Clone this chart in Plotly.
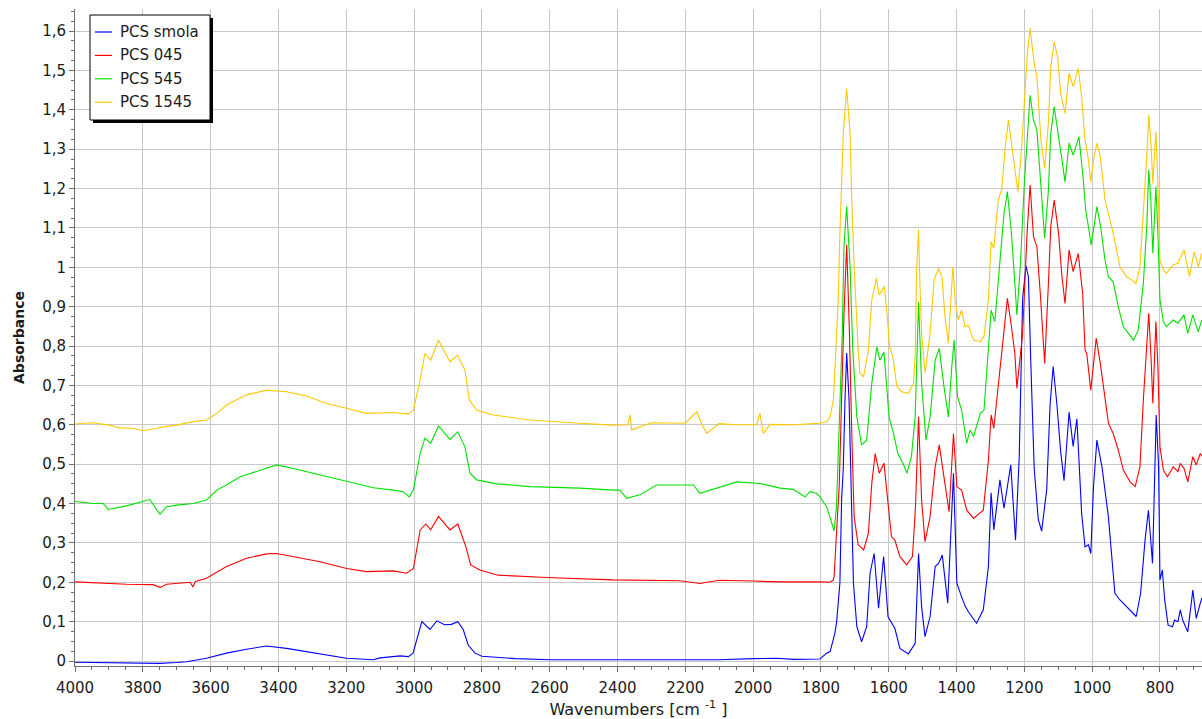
import plotly.graph_objects as go

# FTIR spectra of the PCS resin samples (absorbance vs. wavenumber)

wn_smola = [4000, 3900, 3800, 3750, 3700, 3671, 3612, 3553, 3494, 3435, 3376, 3317, 3258, 3199,
            3120, 3100, 3041, 3017, 3003, 2990, 2977, 2953, 2933, 2910, 2890, 2871, 2855, 2840,
            2820, 2800, 2700, 2600, 2400, 2300, 2200, 2100, 2000, 1931, 1880, 1830, 1803, 1783,
            1773, 1764, 1759, 1754, 1749, 1744, 1739, 1734, 1729, 1724, 1717, 1711, 1704, 1694,
            1680, 1665, 1655, 1643, 1630, 1615, 1602, 1582, 1567, 1542, 1522, 1512, 1503, 1493,
            1478, 1463, 1453, 1442, 1426, 1409, 1399, 1385, 1375, 1365, 1341, 1321, 1306, 1298,
            1290, 1272, 1260, 1240, 1226, 1215, 1205, 1195, 1188, 1181, 1171, 1159, 1149, 1134,
            1124, 1115, 1104, 1093, 1083, 1068, 1056, 1045, 1031, 1021, 1011, 1004, 996, 986,
            971, 952, 933, 918, 893, 870, 857, 844, 834, 822, 811, 804, 800, 793, 786, 776, 763,
            757, 747, 740, 733, 718, 703, 693, 681, 676]
a_smola = [-0.003, -0.004, -0.004, -0.006, -0.004, -0.002, 0.007, 0.020, 0.030, 0.038, 0.032, 0.024,
           0.015, 0.007, 0.003, 0.008, 0.013, 0.011, 0.020, 0.060, 0.100, 0.080, 0.102, 0.092,
           0.093, 0.100, 0.080, 0.040, 0.020, 0.012, 0.006, 0.003, 0.003, 0.002, 0.003, 0.003,
           0.006, 0.007, 0.004, 0.004, 0.005, 0.020, 0.024, 0.053, 0.070, 0.096, 0.160, 0.198,
           0.409, 0.490, 0.663, 0.782, 0.663, 0.409, 0.197, 0.087, 0.049, 0.087, 0.223, 0.273,
           0.134, 0.265, 0.112, 0.083, 0.032, 0.018, 0.045, 0.273, 0.138, 0.062, 0.113, 0.240,
           0.248, 0.269, 0.147, 0.477, 0.197, 0.163, 0.140, 0.125, 0.096, 0.130, 0.240, 0.427,
           0.333, 0.460, 0.388, 0.498, 0.307, 0.520, 0.922, 1.003, 0.976, 0.760, 0.490, 0.360,
           0.330, 0.436, 0.652, 0.748, 0.652, 0.533, 0.458, 0.632, 0.545, 0.615, 0.375, 0.290,
           0.295, 0.273, 0.443, 0.561, 0.493, 0.366, 0.172, 0.155, 0.134, 0.113, 0.172, 0.307,
           0.383, 0.248, 0.625, 0.493, 0.206, 0.231, 0.155, 0.091, 0.087, 0.104, 0.100, 0.130,
           0.104, 0.074, 0.180, 0.108, 0.147, 0.160]

wn_045 = [4000, 3897, 3848, 3770, 3749, 3730, 3700, 3660, 3652, 3645, 3612, 3553, 3494, 3435,
          3405, 3356, 3277, 3199, 3140, 3061, 3022, 3002, 2982, 2965, 2951, 2928, 2894, 2871,
          2847, 2833, 2806, 2752, 2609, 2413, 2216, 2157, 2100, 2000, 1920, 1803, 1773, 1764,
          1761, 1754, 1746, 1739, 1732, 1724, 1716, 1709, 1702, 1690, 1674, 1660, 1650, 1640,
          1628, 1614, 1602, 1592, 1582, 1567, 1547, 1530, 1521, 1512, 1503, 1493, 1478, 1463,
          1451, 1434, 1422, 1409, 1399, 1385, 1370, 1350, 1321, 1306, 1298, 1290, 1272, 1260,
          1250, 1238, 1228, 1222, 1205, 1192, 1183, 1173, 1163, 1153, 1140, 1129, 1122, 1112,
          1099, 1089, 1080, 1068, 1056, 1041, 1028, 1021, 1016, 1004, 996, 988, 976, 962, 952,
          938, 923, 908, 888, 873, 859, 849, 839, 833, 826, 821, 812, 806, 800, 790, 778, 761,
          747, 740, 729, 718, 703, 693, 681, 676]
a_045 = [0.201, 0.196, 0.195, 0.194, 0.187, 0.195, 0.197, 0.200, 0.188, 0.202, 0.210, 0.240,
         0.261, 0.272, 0.273, 0.265, 0.252, 0.235, 0.227, 0.229, 0.223, 0.235, 0.333, 0.348,
         0.333, 0.367, 0.333, 0.348, 0.290, 0.244, 0.231, 0.218, 0.212, 0.206, 0.204, 0.197,
         0.205, 0.203, 0.201, 0.201, 0.200, 0.205, 0.214, 0.325, 0.444, 0.663, 0.880, 1.057,
         0.838, 0.580, 0.366, 0.295, 0.282, 0.324, 0.451, 0.527, 0.477, 0.502, 0.392, 0.316,
         0.307, 0.265, 0.244, 0.265, 0.392, 0.620, 0.409, 0.303, 0.366, 0.493, 0.549, 0.443,
         0.379, 0.578, 0.443, 0.434, 0.383, 0.362, 0.383, 0.510, 0.625, 0.591, 0.743, 0.832,
         0.921, 0.849, 0.781, 0.693, 0.832, 1.086, 1.209, 1.078, 1.052, 0.934, 0.756, 0.959,
         1.103, 1.171, 1.086, 0.976, 0.908, 1.044, 0.989, 1.035, 0.934, 0.790, 0.781, 0.688,
         0.747, 0.820, 0.756, 0.663, 0.604, 0.578, 0.536, 0.485, 0.455, 0.443, 0.493, 0.663,
         0.815, 0.883, 0.764, 0.654, 0.862, 0.747, 0.544, 0.485, 0.468, 0.493, 0.481, 0.502,
         0.489, 0.455, 0.519, 0.498, 0.527, 0.520]

wn_545 = [4000, 3946, 3917, 3902, 3848, 3779, 3760, 3749, 3730, 3700, 3651, 3612, 3582, 3553,
          3513, 3454, 3405, 3356, 3297, 3238, 3179, 3120, 3061, 3032, 3014, 3002, 2982, 2968,
          2951, 2928, 2894, 2871, 2850, 2835, 2815, 2756, 2658, 2511, 2412, 2393, 2373, 2334,
          2285, 2176, 2157, 2048, 1980, 1920, 1882, 1847, 1832, 1813, 1803, 1783, 1768, 1761,
          1754, 1744, 1737, 1732, 1724, 1714, 1709, 1706, 1694, 1680, 1665, 1650, 1635, 1626,
          1614, 1599, 1587, 1573, 1558, 1546, 1533, 1522, 1512, 1503, 1490, 1478, 1463, 1451,
          1437, 1424, 1414, 1407, 1397, 1385, 1370, 1360, 1350, 1330, 1319, 1306, 1298, 1287,
          1272, 1260, 1250, 1238, 1228, 1222, 1212, 1200, 1183, 1173, 1163, 1153, 1140, 1129,
          1122, 1112, 1099, 1089, 1080, 1068, 1056, 1039, 1027, 1019, 1011, 1003, 996, 986, 975,
          962, 952, 938, 923, 908, 893, 878, 864, 849, 839, 833, 827, 821, 812, 806, 800, 790,
          781, 761, 747, 729, 718, 703, 687, 677]
a_545 = [0.405, 0.400, 0.400, 0.385, 0.394, 0.410, 0.385, 0.373, 0.392, 0.396, 0.400, 0.409,
         0.434, 0.447, 0.468, 0.485, 0.498, 0.489, 0.477, 0.464, 0.451, 0.440, 0.434, 0.430,
         0.417, 0.434, 0.527, 0.566, 0.553, 0.597, 0.563, 0.582, 0.544, 0.477, 0.460, 0.450,
         0.443, 0.439, 0.434, 0.434, 0.413, 0.422, 0.447, 0.447, 0.426, 0.455, 0.451, 0.439,
         0.436, 0.417, 0.430, 0.426, 0.417, 0.392, 0.350, 0.330, 0.392, 0.663, 0.832, 1.052,
         1.154, 1.001, 0.874, 0.790, 0.620, 0.549, 0.561, 0.705, 0.798, 0.764, 0.785, 0.620,
         0.582, 0.527, 0.502, 0.477, 0.519, 0.620, 0.912, 0.705, 0.561, 0.620, 0.764, 0.794,
         0.697, 0.620, 0.747, 0.815, 0.671, 0.637, 0.553, 0.587, 0.570, 0.629, 0.637, 0.790,
         0.891, 0.862, 1.010, 1.137, 1.192, 1.086, 0.959, 0.879, 1.001, 1.213, 1.437, 1.374,
         1.349, 1.239, 1.073, 1.196, 1.340, 1.408, 1.323, 1.272, 1.217, 1.315, 1.285, 1.332,
         1.230, 1.145, 1.103, 1.057, 1.095, 1.154, 1.103, 1.018, 0.976, 0.963, 0.900, 0.849,
         0.832, 0.815, 0.841, 0.959, 1.103, 1.247, 1.171, 1.035, 1.205, 1.086, 0.917, 0.862,
         0.849, 0.866, 0.858, 0.879, 0.832, 0.879, 0.836, 0.866]

wn_1545 = [4000, 3950, 3897, 3870, 3828, 3800, 3759, 3730, 3700, 3651, 3612, 3582, 3553, 3494,
           3435, 3376, 3317, 3258, 3199, 3140, 3061, 3017, 3002, 2982, 2968, 2951, 2928, 2894,
           2872, 2850, 2837, 2815, 2766, 2658, 2511, 2412, 2370, 2363, 2358, 2300, 2200, 2166,
           2150, 2137, 2100, 2050, 1990, 1980, 1970, 1950, 1880, 1803, 1783, 1773, 1763, 1754,
           1749, 1744, 1739, 1734, 1724, 1714, 1709, 1702, 1690, 1685, 1674, 1660, 1650, 1636,
           1628, 1613, 1604, 1598, 1588, 1576, 1562, 1542, 1527, 1522, 1518, 1512, 1508, 1503,
           1493, 1478, 1466, 1453, 1443, 1434, 1424, 1411, 1404, 1395, 1385, 1375, 1365, 1350,
           1330, 1319, 1306, 1298, 1290, 1277, 1267, 1257, 1247, 1232, 1219, 1207, 1192, 1183,
           1171, 1163, 1151, 1140, 1129, 1122, 1112, 1102, 1093, 1080, 1068, 1056, 1041, 1031,
           1021, 1011, 1004, 996, 986, 976, 962, 947, 938, 918, 898, 884, 871, 859, 849, 839,
           833, 826, 821, 812, 806, 800, 790, 781, 761, 747, 729, 713, 699, 687, 677]
a_1545 = [0.602, 0.605, 0.599, 0.592, 0.591, 0.585, 0.591, 0.596, 0.599, 0.608, 0.612, 0.629,
          0.650, 0.676, 0.688, 0.684, 0.673, 0.654, 0.642, 0.629, 0.631, 0.627, 0.637, 0.714,
          0.781, 0.764, 0.815, 0.760, 0.777, 0.739, 0.663, 0.637, 0.625, 0.612, 0.604, 0.599,
          0.600, 0.625, 0.587, 0.605, 0.604, 0.633, 0.600, 0.578, 0.603, 0.600, 0.600, 0.629,
          0.578, 0.601, 0.600, 0.604, 0.608, 0.620, 0.663, 0.833, 0.917, 1.086, 1.213, 1.340,
          1.454, 1.340, 1.171, 1.001, 0.790, 0.731, 0.722, 0.790, 0.917, 0.972, 0.930, 0.951,
          0.874, 0.800, 0.773, 0.697, 0.684, 0.680, 0.705, 0.773, 0.985, 1.095, 0.959, 0.832,
          0.731, 0.832, 0.968, 0.997, 0.976, 0.874, 0.807, 1.001, 0.917, 0.866, 0.891, 0.849,
          0.853, 0.815, 0.811, 0.824, 0.917, 1.065, 1.048, 1.171, 1.196, 1.298, 1.374, 1.281,
          1.192, 1.315, 1.535, 1.607, 1.518, 1.484, 1.323, 1.251, 1.366, 1.509, 1.573, 1.535,
          1.442, 1.391, 1.493, 1.459, 1.505, 1.433, 1.323, 1.272, 1.217, 1.272, 1.315, 1.281,
          1.171, 1.120, 1.086, 1.001, 0.976, 0.968, 0.959, 1.001, 1.128, 1.281, 1.387, 1.306,
          1.213, 1.344, 1.213, 1.018, 0.993, 0.985, 1.006, 1.010, 1.044, 0.976, 1.040, 1.001,
          1.035]

series_names = ["PCS smola", "PCS 045", "PCS 545", "PCS 1545"]
series_colors = ["rgb(0,0,255)", "rgb(255,0,0)", "rgb(0,225,0)", "rgb(255,200,0)"]
series_x = [wn_smola, wn_045, wn_545, wn_1545]
series_y = [a_smola, a_045, a_545, a_1545]

x_ticks = [4000, 3800, 3600, 3400, 3200, 3000, 2800, 2600, 2400, 2200, 2000, 1800, 1600,
           1400, 1200, 1000, 800]
y_ticks = [0, 0.1, 0.2, 0.3, 0.4, 0.5, 0.6, 0.7, 0.8, 0.9, 1.0, 1.1, 1.2, 1.3, 1.4, 1.5, 1.6]

FONT = "DejaVu Sans"
W, H = 1202, 719
ML, MR, MT, MB = 75, 0, 9, 53
PW, PH = W - ML - MR, H - MT - MB


def px(x):
    """Horizontal pixel position -> paper coordinate."""
    return (x - ML) / PW


def py(y):
    """Vertical pixel position (from top) -> paper coordinate."""
    return (H - MB - y) / PH


fig = go.Figure()
for name, color, xs, ys in zip(series_names, series_colors, series_x, series_y):
    fig.add_trace(go.Scatter(x=xs, y=ys, mode="lines", name=name,
                             line=dict(color=color, width=1.1)))

axis_common = dict(
    showgrid=True, gridcolor="#c8c8c8", gridwidth=1,
    showline=True, linecolor="#707070", linewidth=1,
    ticks="outside", ticklen=5, tickcolor="#707070", tickwidth=1,
    zeroline=False, automargin=False,
    tickfont=dict(family=FONT, size=15, color="#1a1a1a"),
)

fig.update_layout(
    width=W, height=H,
    margin=dict(l=ML, r=MR, t=MT, b=MB),
    paper_bgcolor="white", plot_bgcolor="white",
    separators=", ",
    showlegend=False,
    xaxis=dict(
        axis_common,
        range=[4000, 676], autorange=False,
        tickmode="array", tickvals=x_ticks,
        ticklabelstandoff=3,
        minor=dict(dtick=50, tick0=0, ticks="outside", ticklen=3, tickcolor="#707070",
                   showgrid=False),
        title=dict(text="Wavenumbers [cm <sup>-1</sup> ]", standoff=7,
                   font=dict(family=FONT, size=16, color="#1a1a1a")),
    ),
    yaxis=dict(
        axis_common,
        range=[-0.0127, 1.656], autorange=False,
        tickmode="array", tickvals=y_ticks,
        minor=dict(dtick=0.025, tick0=0, ticks="outside", ticklen=3, tickcolor="#707070",
                   showgrid=False),
        title=dict(text="<b>Absorbance</b>", standoff=14,
                   font=dict(family=FONT, size=14, color="#1a1a1a")),
    ),
)

# legend box with a drop shadow, one line sample and label per series
box_l, box_t, box_r, box_b = 90, 15, 210, 120
shadow = 3
fig.add_shape(type="rect", xref="paper", yref="paper", layer="above",
              x0=px(box_l + shadow), x1=px(box_r + shadow),
              y0=py(box_b + shadow), y1=py(box_t + shadow),
              fillcolor="black", line=dict(width=0))
fig.add_shape(type="rect", xref="paper", yref="paper", layer="above",
              x0=px(box_l), x1=px(box_r), y0=py(box_b), y1=py(box_t),
              fillcolor="white", line=dict(color="black", width=1))
row_y0, row_step = 32, 23.4
for i, (name, color) in enumerate(zip(series_names, series_colors)):
    ry = row_y0 + i * row_step
    fig.add_shape(type="line", xref="paper", yref="paper", layer="above",
                  x0=px(95), x1=px(112), y0=py(ry), y1=py(ry),
                  line=dict(color=color, width=1.2))
    fig.add_annotation(xref="paper", yref="paper", x=px(118), y=py(ry),
                       xanchor="left", yanchor="middle", showarrow=False,
                       text=name, font=dict(family=FONT, size=15, color="#1a1a1a"))

fig.write_html("out.html")
